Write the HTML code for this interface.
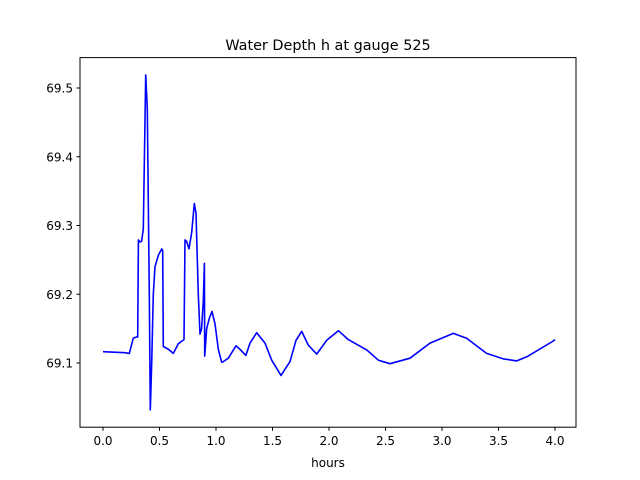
<!DOCTYPE html>
<html><head><meta charset="utf-8"><style>
html,body{margin:0;padding:0;background:#fff;}
svg{display:block;font-family:"DejaVu Sans","Liberation Sans",sans-serif;}
</style></head><body>
<svg id="chart" width="640" height="480" viewBox="0 0 640 480" xmlns="http://www.w3.org/2000/svg">
<rect width="640" height="480" fill="#fff"/>
<text x="328" y="50" font-size="14.4" text-anchor="middle" fill="#000">Water Depth h at gauge 525</text>
<g id="plot"></g>
<rect x="80" y="57.6" width="496" height="369.6" fill="none" stroke="#000" stroke-width="1"/>
<g id="xt"></g>
<g id="yt"></g>
<text x="328" y="467" font-size="12" text-anchor="middle">hours</text>
</svg>
<script>
const hours=[0,0.195,0.233,0.268,0.298,0.307,0.313,0.327,0.342,0.357,0.378,0.392,0.41,0.419,0.431,0.445,0.46,0.49,0.52,0.528,0.534,0.578,0.622,0.666,0.717,0.726,0.74,0.761,0.785,0.808,0.823,0.843,0.858,0.873,0.888,0.897,0.9,0.918,0.941,0.965,0.991,1.02,1.05,1.065,1.109,1.177,1.218,1.265,1.301,1.36,1.434,1.493,1.575,1.655,1.708,1.758,1.817,1.891,1.98,2.083,2.171,2.334,2.437,2.54,2.717,2.894,3.1,3.218,3.395,3.543,3.661,3.75,3.985,4.0];
const depth=[69.1164,69.115,69.114,69.136,69.138,69.138,69.279,69.276,69.277,69.295,69.519,69.47,69.2,69.032,69.1,69.2,69.24,69.257,69.266,69.263,69.124,69.12,69.114,69.128,69.134,69.279,69.277,69.266,69.29,69.332,69.318,69.2,69.142,69.15,69.19,69.245,69.11,69.15,69.165,69.175,69.157,69.12,69.101,69.102,69.107,69.125,69.119,69.111,69.129,69.144,69.129,69.104,69.082,69.102,69.133,69.146,69.126,69.113,69.133,69.147,69.134,69.119,69.104,69.099,69.107,69.129,69.143,69.136,69.114,69.106,69.103,69.109,69.132,69.134];
const xTicks=[0,0.5,1,1.5,2,2.5,3,3.5,4];
const yTicks=[69.1,69.2,69.3,69.4,69.5];
const NS="http://www.w3.org/2000/svg";
const X=v=>103+(v)*113;
const Y=v=>363-(v-69.1)*687.5;
let d="";
hours.forEach((h,i)=>{d+=(i?"L":"M")+X(h).toFixed(1)+","+Y(depth[i]).toFixed(1);});
const p=document.createElementNS(NS,"path");
p.setAttribute("d",d);p.setAttribute("fill","none");p.setAttribute("stroke","#0000ff");p.setAttribute("stroke-width","1.6");p.setAttribute("stroke-linejoin","round");


document.getElementById("plot").appendChild(p);
const xt=document.getElementById("xt");
xTicks.forEach(t=>{
 const l=document.createElementNS(NS,"line");
 l.setAttribute("x1",X(t));l.setAttribute("x2",X(t));l.setAttribute("y1",427.2);l.setAttribute("y2",430.7);l.setAttribute("stroke","#000");
 
 
 xt.appendChild(l);
 const s=document.createElementNS(NS,"text");
 s.setAttribute("x",X(t));s.setAttribute("y",445);s.setAttribute("font-size","12");s.setAttribute("text-anchor","middle");
 s.textContent=t.toFixed(1);
 
 
 xt.appendChild(s);
});
const yt=document.getElementById("yt");
yTicks.forEach(t=>{
 const l=document.createElementNS(NS,"line");
 l.setAttribute("x1",76.5);l.setAttribute("x2",80);l.setAttribute("y1",Y(t));l.setAttribute("y2",Y(t));l.setAttribute("stroke","#000");
 
 
 yt.appendChild(l);
 const s=document.createElementNS(NS,"text");
 s.setAttribute("x",73);s.setAttribute("y",Y(t)+4.5);s.setAttribute("font-size","12");s.setAttribute("text-anchor","end");
 s.textContent=t.toFixed(1);
 
 
 yt.appendChild(s);
});
</script>
</body></html>
